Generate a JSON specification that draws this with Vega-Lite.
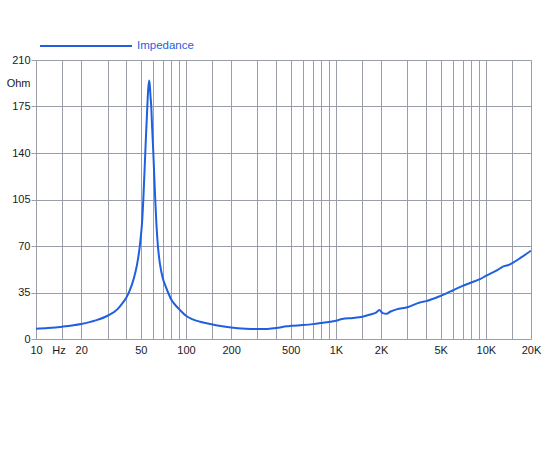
{
  "$schema": "https://vega.github.io/schema/vega-lite/v6.json",
  "autosize": "none",
  "width": 495,
  "height": 279,
  "padding": {"left": 36, "top": 60, "right": 19, "bottom": 111},
  "background": "white",
  "config": {
    "view": {"stroke": null},
    "font": "Liberation Sans",
    "axis": {"labelFont": "Liberation Sans", "labelFontSize": 11, "labelColor": "#1a1a1a", "gridColor": "#9a9ea8", "gridWidth": 1, "gridOpacity": 1, "domain": false, "title": null}
  },
  "data": {
    "values": [
      {"f": 10, "z": 7.8, "series": "Impedance"},
      {"f": 12, "z": 8.3, "series": "Impedance"},
      {"f": 15, "z": 9.3, "series": "Impedance"},
      {"f": 20, "z": 11.3, "series": "Impedance"},
      {"f": 25, "z": 14, "series": "Impedance"},
      {"f": 30, "z": 17.5, "series": "Impedance"},
      {"f": 35, "z": 22.5, "series": "Impedance"},
      {"f": 38, "z": 27.5, "series": "Impedance"},
      {"f": 40, "z": 31, "series": "Impedance"},
      {"f": 42, "z": 36, "series": "Impedance"},
      {"f": 45, "z": 46, "series": "Impedance"},
      {"f": 47, "z": 55, "series": "Impedance"},
      {"f": 49, "z": 68, "series": "Impedance"},
      {"f": 50, "z": 77, "series": "Impedance"},
      {"f": 51, "z": 88, "series": "Impedance"},
      {"f": 52, "z": 106, "series": "Impedance"},
      {"f": 53, "z": 128, "series": "Impedance"},
      {"f": 54, "z": 150, "series": "Impedance"},
      {"f": 55, "z": 170, "series": "Impedance"},
      {"f": 56, "z": 188, "series": "Impedance"},
      {"f": 56.9, "z": 194.5, "series": "Impedance"},
      {"f": 57.5, "z": 190, "series": "Impedance"},
      {"f": 58, "z": 183, "series": "Impedance"},
      {"f": 58.7, "z": 175, "series": "Impedance"},
      {"f": 59.5, "z": 159, "series": "Impedance"},
      {"f": 60.6, "z": 140, "series": "Impedance"},
      {"f": 61.5, "z": 122, "series": "Impedance"},
      {"f": 62.4, "z": 105, "series": "Impedance"},
      {"f": 63.5, "z": 87, "series": "Impedance"},
      {"f": 65, "z": 70, "series": "Impedance"},
      {"f": 67, "z": 57, "series": "Impedance"},
      {"f": 70, "z": 46, "series": "Impedance"},
      {"f": 73, "z": 40, "series": "Impedance"},
      {"f": 76, "z": 35, "series": "Impedance"},
      {"f": 80, "z": 29.5, "series": "Impedance"},
      {"f": 85, "z": 25.5, "series": "Impedance"},
      {"f": 90, "z": 22.5, "series": "Impedance"},
      {"f": 100, "z": 17.5, "series": "Impedance"},
      {"f": 110, "z": 15, "series": "Impedance"},
      {"f": 124, "z": 13, "series": "Impedance"},
      {"f": 145, "z": 11.3, "series": "Impedance"},
      {"f": 170, "z": 9.8, "series": "Impedance"},
      {"f": 200, "z": 8.7, "series": "Impedance"},
      {"f": 250, "z": 7.8, "series": "Impedance"},
      {"f": 300, "z": 7.5, "series": "Impedance"},
      {"f": 350, "z": 7.6, "series": "Impedance"},
      {"f": 400, "z": 8.2, "series": "Impedance"},
      {"f": 470, "z": 9.6, "series": "Impedance"},
      {"f": 500, "z": 9.9, "series": "Impedance"},
      {"f": 600, "z": 10.5, "series": "Impedance"},
      {"f": 700, "z": 11.2, "series": "Impedance"},
      {"f": 820, "z": 12.3, "series": "Impedance"},
      {"f": 1000, "z": 13.8, "series": "Impedance"},
      {"f": 1100, "z": 15, "series": "Impedance"},
      {"f": 1300, "z": 15.8, "series": "Impedance"},
      {"f": 1500, "z": 16.8, "series": "Impedance"},
      {"f": 1700, "z": 18.5, "series": "Impedance"},
      {"f": 1850, "z": 19.8, "series": "Impedance"},
      {"f": 1950, "z": 21.8, "series": "Impedance"},
      {"f": 2050, "z": 19.5, "series": "Impedance"},
      {"f": 2180, "z": 19, "series": "Impedance"},
      {"f": 2300, "z": 20.5, "series": "Impedance"},
      {"f": 2540, "z": 22.3, "series": "Impedance"},
      {"f": 3000, "z": 23.9, "series": "Impedance"},
      {"f": 3630, "z": 27.5, "series": "Impedance"},
      {"f": 4000, "z": 28.5, "series": "Impedance"},
      {"f": 5000, "z": 32.5, "series": "Impedance"},
      {"f": 5470, "z": 34.4, "series": "Impedance"},
      {"f": 6000, "z": 36.5, "series": "Impedance"},
      {"f": 7000, "z": 40, "series": "Impedance"},
      {"f": 8000, "z": 42.5, "series": "Impedance"},
      {"f": 9120, "z": 45, "series": "Impedance"},
      {"f": 10000, "z": 47.5, "series": "Impedance"},
      {"f": 12000, "z": 52, "series": "Impedance"},
      {"f": 13000, "z": 54.5, "series": "Impedance"},
      {"f": 14000, "z": 55.5, "series": "Impedance"},
      {"f": 15200, "z": 57.5, "series": "Impedance"},
      {"f": 17000, "z": 61, "series": "Impedance"},
      {"f": 20000, "z": 66.5, "series": "Impedance"}
    ]
  },
  "mark": {"type": "line", "strokeWidth": 2, "interpolate": "monotone", "clip": true},
  "encoding": {
    "x": {
      "field": "f",
      "type": "quantitative",
      "scale": {"type": "log", "domain": [10, 20000], "nice": false},
      "axis": {
        "values": [10, 14.142, 15, 20, 30, 40, 50, 60, 70, 80, 90, 100, 150, 200, 300, 400, 500, 600, 700, 800, 900, 1000, 1500, 2000, 3000, 4000, 5000, 6000, 7000, 8000, 9000, 10000, 15000, 20000],
        "labelExpr": "datum.value == 14.142 ? 'Hz' : indexof([10, 20, 50, 100, 200, 500], datum.value) >= 0 ? format(datum.value, 'd') : indexof([1000, 2000, 5000, 10000, 20000], datum.value) >= 0 ? format(datum.value / 1000, 'd') + 'K' : ''",
        "labelOverlap": false,
        "labelFlush": false,
        "labelBound": false,
        "ticks": false,
        "labelPadding": 5,
        "gridOpacity": {"condition": {"test": "datum.value == 14.142", "value": 0}, "value": 1}
      }
    },
    "y": {
      "field": "z",
      "type": "quantitative",
      "scale": {"domain": [0, 210], "nice": false},
      "axis": {
        "values": [0, 35, 70, 105, 140, 175, 192.5, 210],
        "labelExpr": "datum.value == 192.5 ? 'Ohm' : datum.label",
        "labelOverlap": false,
        "labelFlush": false,
        "labelBound": false,
        "tickSize": 5,
        "tickColor": "#9a9ea8",
        "tickOpacity": {"condition": {"test": "datum.value == 192.5", "value": 0}, "value": 1},
        "gridOpacity": {"condition": {"test": "datum.value == 192.5", "value": 0}, "value": 1},
        "labelPadding": 1
      }
    },
    "color": {
      "field": "series",
      "type": "nominal",
      "scale": {"range": ["#1f5fe0"]},
      "legend": {
        "title": null,
        "orient": "none",
        "legendX": 3,
        "legendY": -61,
        "symbolType": "stroke",
        "symbolSize": 8464,
        "symbolStrokeWidth": 2,
        "labelColor": "#1f5fe0",
        "labelFont": "Liberation Sans",
        "labelFontSize": 11.5,
        "labelOffset": 4
      }
    }
  }
}
